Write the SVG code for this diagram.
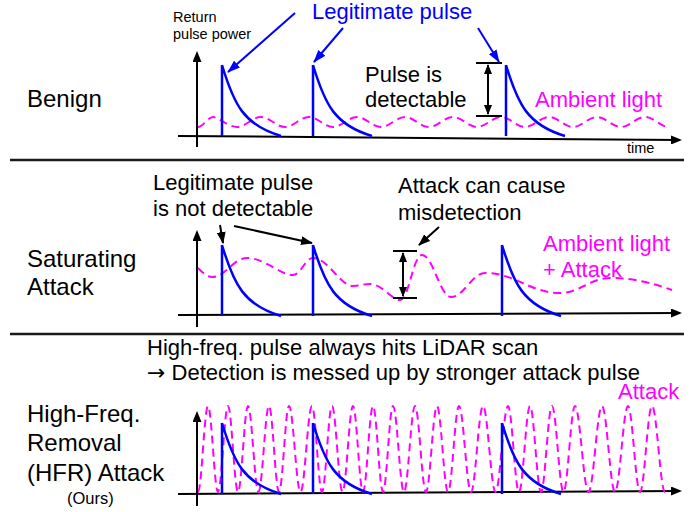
<svg xmlns="http://www.w3.org/2000/svg" width="694" height="512" viewBox="0 0 694 512">
<defs>
<style>
text{font-family:"Liberation Sans",Arial,sans-serif;fill:#000}
.lbl{font-size:24px}
.ann{font-size:22px}
.sm{font-size:14.5px}
.blue{fill:#0000ff}
.mag{fill:#ff00ff}
.arr{font-family:"DejaVu Sans",sans-serif}
.axis{stroke:#000;stroke-width:2;fill:none}
.sep{stroke:#1a1a1a;stroke-width:2.5}
.pulse{stroke:#0000ff;stroke-width:2.5;fill:none}
.wave{stroke:#ff00ff;stroke-width:2;fill:none;stroke-dasharray:8 5}
.ba{stroke:#0000ff;stroke-width:2;fill:none}
.ka{stroke:#000;stroke-width:2;fill:none}
.bar{stroke:#000;stroke-width:2}
</style>
<marker id="axh" markerUnits="userSpaceOnUse" markerWidth="11" markerHeight="9" refX="9" refY="4.5" orient="auto"><path d="M0,0 L11,4.5 L0,9 z" fill="#000"/></marker>
<marker id="bh" markerUnits="userSpaceOnUse" markerWidth="13" markerHeight="9" refX="12" refY="4.5" orient="auto"><path d="M0,0 L13,4.5 L0,9 z" fill="#0000ff"/></marker>
<marker id="kh" markerUnits="userSpaceOnUse" markerWidth="12" markerHeight="9" refX="11" refY="4.5" orient="auto"><path d="M0,0 L12,4.5 L0,9 z" fill="#000"/></marker>
<marker id="dh" markerUnits="userSpaceOnUse" markerWidth="10" markerHeight="8" refX="9" refY="4" orient="auto-start-reverse"><path d="M0,0 L10,4 L0,8 z" fill="#000"/></marker>
<path id="pl" d="M0,0 V71 M0,0 C12,40 22,60 59,71"/>
</defs>
<rect width="694" height="512" fill="#fff"/>

<g id="separators">
<line class="sep" x1="10" y1="160" x2="684" y2="160"/>
<line class="sep" x1="10" y1="334" x2="684" y2="334"/>
</g>

<g id="benign">
<text class="lbl" x="27" y="107">Benign</text>
<text class="sm" x="173" y="22">Return</text>
<text class="sm" x="173" y="39">pulse power</text>
<line class="axis" x1="197" y1="147" x2="197" y2="53" marker-end="url(#axh)"/>
<line class="axis" x1="178" y1="136" x2="680" y2="140" marker-end="url(#axh)"/>
<text class="sm" x="627" y="153">time</text>
<path class="wave" d="M198,127 c5,0 10,-10 15,-10 s15.3,10 24,10 s15.3,-10 24,-10 s15.3,10 24,10 s15.3,-10 24,-10 s15.3,10 24,10 s15.3,-10 24,-10 s15.3,10 24,10 s15.3,-10 24,-10 s15.3,10 24,10 s15.3,-10 24,-10 s15.3,10 24,10 s15.3,-10 24,-10 s15.3,10 24,10 s15.3,-10 24,-10 s15.3,10 24,10 s15.3,-10 24,-10 s15.3,10 24,10 s15.3,-10 24,-10 s15.3,10 24,10"/>
<use href="#pl" class="pulse" x="222" y="65"/>
<use href="#pl" class="pulse" x="313" y="65"/>
<use href="#pl" class="pulse" x="506" y="65"/>
<text class="ann blue" x="312" y="19">Legitimate pulse</text>
<text class="ann" x="365" y="82">Pulse is</text>
<text class="ann" x="365" y="107">detectable</text>
<text class="ann mag" x="535" y="107">Ambient light</text>
<line class="bar" x1="476" y1="63" x2="502" y2="63"/>
<line class="bar" x1="476" y1="116" x2="502" y2="116"/>
</g>

<g id="saturating">
<text class="lbl" x="27" y="267">Saturating</text>
<text class="lbl" x="27" y="295">Attack</text>
<line class="axis" x1="197" y1="327" x2="197" y2="232" marker-end="url(#axh)"/>
<line class="axis" x1="178" y1="315" x2="680" y2="313" marker-end="url(#axh)"/>
<path class="wave" d="M198,268 C203,273 207,277 212,277 C226,277 233,258 247,258 C265,258 280,275 293,275 C301,275 305,258 313,258 C328,258 340,286 353,286 C360,286 363,284 370,284 C382,284 392,300 400,300 C409,300 413,255 422,255 C433,255 440,297 451,297 C464,297 472,273 485,273 C515,273 530,293 560,293 C580,293 590,278 610,278 C635,278 655,284 672,290"/>
<use href="#pl" class="pulse" x="222" y="245"/>
<use href="#pl" class="pulse" x="313" y="245"/>
<use href="#pl" class="pulse" x="502" y="245"/>
<text class="ann" x="153" y="190">Legitimate pulse</text>
<text class="ann" x="153" y="216">is not detectable</text>
<text class="ann" x="398" y="193">Attack can cause</text>
<text class="ann" x="398" y="220">misdetection</text>
<text class="ann mag" x="543" y="251">Ambient light</text>
<text class="ann mag" x="543" y="277">+ Attack</text>
<line class="bar" x1="393" y1="251" x2="417" y2="251"/>
<line class="bar" x1="393" y1="298" x2="417" y2="298"/>
</g>

<g id="hfr">
<text class="ann" x="147" y="355">High-freq. pulse always hits LiDAR scan</text>
<text class="ann" x="147" y="380"><tspan class="arr">→</tspan> Detection is messed up by stronger attack pulse</text>
<text class="lbl" x="27" y="422">High-Freq.</text>
<text class="lbl" x="27" y="451">Removal</text>
<text class="lbl" x="27" y="481">(HFR) Attack</text>
<text x="67" y="504" style="font-size:16.5px">(Ours)</text>
<line class="axis" x1="197" y1="506" x2="197" y2="413" marker-end="url(#axh)"/>
<line class="axis" x1="178" y1="494" x2="680" y2="491" marker-end="url(#axh)"/>
<path class="wave" d="M198,492 C201.6,492 204.4,406 208,406 C211.6,406 214.4,492 218,492 C221.6,492 224.4,406 228,406 C231.6,406 234.4,492 238,492 C241.6,492 244.4,406 248,406 C251.8,406 254.7,492 258.5,492 C262.3,492 265.2,406 269,406 C272.6,406 275.4,492 279,492 C282.6,492 285.4,406 289,406 C293.2,406 296.3,492 300.5,492 C304.7,492 307.8,406 312,406 C315.6,406 318.4,492 322,492 C325.6,492 328.4,406 332,406 C335.8,406 338.7,492 342.5,492 C346.3,492 349.2,406 353,406 C356.6,406 359.4,492 363,492 C366.6,492 369.4,406 373,406 C376.6,406 379.4,492 383,492 C386.6,492 389.4,406 393,406 C397,406 400,492 404,492 C408,492 411,406 415,406 C419,406 422,492 426,492 C430,492 433,406 437,406 C441,406 444,492 448,492 C452,492 455,406 459,406 C463.4,406 466.6,492 471,492 C475.4,492 478.6,406 483,406 C487.6,406 491,492 495.5,492 C500,492 503.4,406 508,406 C512,406 515,492 519,492 C523,492 526,406 530,406 C534,406 537,492 541,492 C545,492 548,406 552,406 C556.2,406 559.3,492 563.5,492 C567.7,492 570.8,406 575,406 C579.9,406 583.6,492 588.5,492 C593.4,492 597.1,406 602,406 C606.7,406 610.3,492 615,492 C619.7,492 623.3,406 628,406 C632.4,406 635.6,492 640,492 C644.4,492 647.6,406 652,406 C656.7,406 660.3,492 665,492"/>
<use href="#pl" class="pulse" x="222" y="423"/>
<use href="#pl" class="pulse" x="313" y="423"/>
<use href="#pl" class="pulse" x="502" y="423"/>
<text class="ann mag" x="618" y="399">Attack</text>
</g>

<g id="connectors">
<line class="ba" x1="295" y1="13" x2="228" y2="72" marker-end="url(#bh)"/>
<line class="ba" x1="343" y1="28" x2="314" y2="62" marker-end="url(#bh)"/>
<line class="ba" x1="478" y1="28" x2="499" y2="62" marker-end="url(#bh)"/>
<line class="ka" x1="488" y1="65" x2="488" y2="114" marker-start="url(#dh)" marker-end="url(#dh)"/>
<line class="ka" x1="220" y1="225" x2="223" y2="243" marker-end="url(#kh)"/>
<line class="ka" x1="234" y1="226" x2="312" y2="243" marker-end="url(#kh)"/>
<line class="ka" x1="439" y1="227" x2="419" y2="245" marker-end="url(#kh)"/>
<line class="ka" x1="403" y1="253" x2="403" y2="296" marker-start="url(#dh)" marker-end="url(#dh)"/>
</g>
</svg>
